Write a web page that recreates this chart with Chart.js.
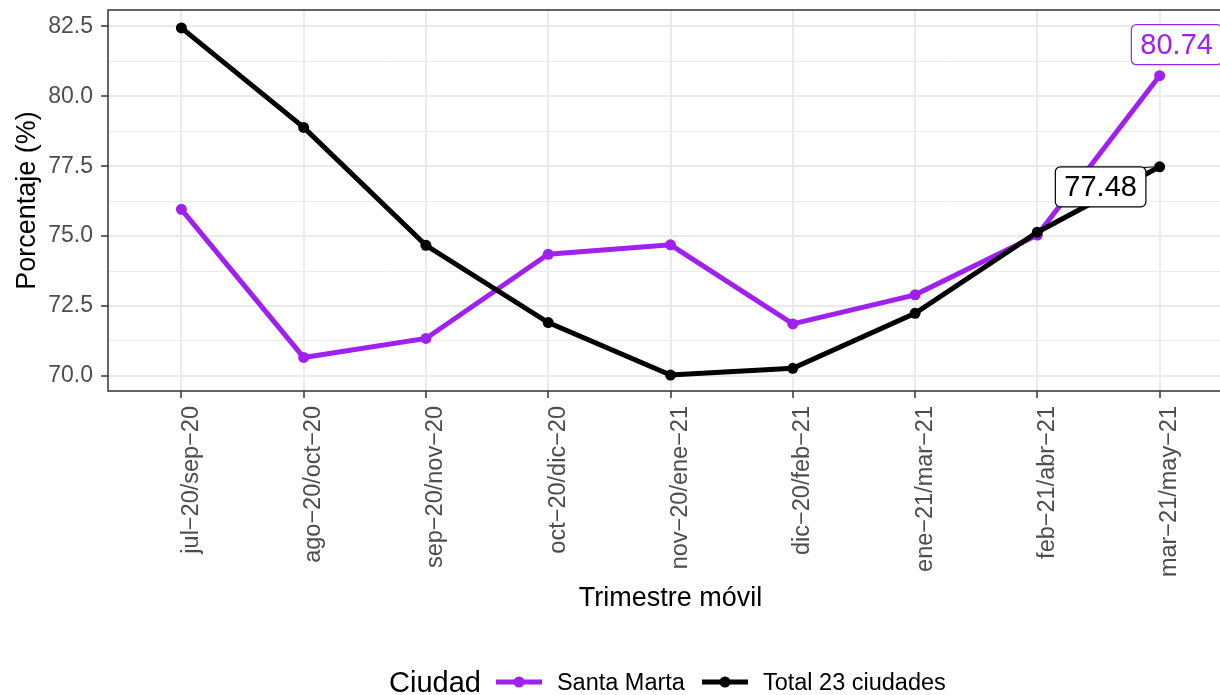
<!DOCTYPE html>
<html>
<head>
<meta charset="utf-8">
<script src="https://cdn.jsdelivr.net/npm/chart.js@4/dist/chart.umd.min.js"></script>
<style>
html,body{margin:0;padding:0;background:#fff;overflow:hidden;}
#wrap{position:relative;width:1240px;height:695px;}
#c{position:absolute;left:0;top:0;}
#legend{position:absolute;left:389px;top:662px;height:40px;display:flex;align-items:center;font-family:"Liberation Sans",Arial,sans-serif;color:#000;white-space:nowrap;}
#legend .ttl{font-size:29px;margin-right:15px;}
#legend .lab{font-size:23.5px;}
#legend svg{display:block;}
</style>
</head>
<body>
<div id="wrap">
<canvas id="c" width="1240" height="695"></canvas>
<div id="legend"></div>
</div>
<script>
// ---- data ----
const categories = ['jul\u221220/sep\u221220','ago\u221220/oct\u221220','sep\u221220/nov\u221220','oct\u221220/dic\u221220','nov\u221220/ene\u221221','dic\u221220/feb\u221221','ene\u221221/mar\u221221','feb\u221221/abr\u221221','mar\u221221/may\u221221'];
const seriesNames = ['Santa Marta','Total 23 ciudades'];
const santaMarta = [75.96, 70.66, 71.34, 74.35, 74.69, 71.86, 72.90, 75.04, 80.74];
const total23 = [82.45, 78.89, 74.67, 71.91, 70.03, 70.27, 72.24, 75.14, 77.48];
const yMajorTicks = [70, 72.5, 75, 77.5, 80, 82.5];
const legendTitle = 'Ciudad';
const xTitle = 'Trimestre m\u00f3vil';
const yTitle = 'Porcentaje (%)';
const seriesColors = ['#A020F0', '#000000'];

// ---- derived ----
const FAM = '"Liberation Sans", Arial, sans-serif';
const yMinor = yMajorTicks.slice(0, -1).map((v, i) => (v + yMajorTicks[i + 1]) / 2);
const yAllTicks = yMajorTicks.concat(yMinor).sort((a, b) => a - b);
const isMajor = v => yMajorTicks.some(m => Math.abs(m - v) < 1e-6);
const seriesValues = [santaMarta, total23];

const datasets = seriesNames.map((name, k) => ({
  label: name,
  data: seriesValues[k].map((v, i) => ({x: i, y: v})),
  borderColor: seriesColors[k],
  backgroundColor: seriesColors[k],
  pointBackgroundColor: seriesColors[k],
  pointBorderColor: seriesColors[k],
  borderWidth: 5,
  pointRadius: 5.5,
  pointBorderWidth: 0,
  tension: 0,
  order: seriesNames.length - k
}));

function roundRectPath(ctx, x, y, w, h, r) {
  ctx.beginPath();
  ctx.moveTo(x + r, y);
  ctx.lineTo(x + w - r, y);
  ctx.arcTo(x + w, y, x + w, y + r, r);
  ctx.lineTo(x + w, y + h - r);
  ctx.arcTo(x + w, y + h, x + w - r, y + h, r);
  ctx.lineTo(x + r, y + h);
  ctx.arcTo(x, y + h, x, y + h - r, r);
  ctx.lineTo(x, y + r);
  ctx.arcTo(x, y, x + r, y, r);
  ctx.closePath();
}

const endLabels = {
  id: 'endLabels',
  afterDraw(chart) {
    const {ctx, chartArea: a, scales} = chart;
    ctx.save();
    // panel border
    ctx.strokeStyle = '#333333';
    ctx.lineWidth = 1.5;
    ctx.strokeRect(a.left, a.top, a.right - a.left, a.bottom - a.top);
    // labels at last point
    const offsets = [{dx: 17, dy: -31}, {dx: -59, dy: 20}];
    ctx.font = '29px ' + FAM;
    ctx.textAlign = 'center';
    ctx.textBaseline = 'middle';
    seriesValues.forEach((vals, k) => {
      const i = vals.length - 1;
      const px = scales.x.getPixelForValue(i);
      const py = scales.y.getPixelForValue(vals[i]);
      const txt = vals[i].toFixed(2);
      const tw = ctx.measureText(txt).width;
      const cx = px + offsets[k].dx, cy = py + offsets[k].dy;
      const w = tw + 18, h = 40;
      const bx = cx - w / 2, by = cy - h / 2;
      if (k === 1) {
        ctx.strokeStyle = seriesColors[k];
        ctx.lineWidth = 1;
        ctx.beginPath();
        ctx.moveTo(bx + w - 8, by + 1);
        ctx.lineTo(px - 4, py);
        ctx.stroke();
      }
      roundRectPath(ctx, bx, by, w, h, 5);
      ctx.fillStyle = '#ffffff';
      ctx.fill();
      ctx.strokeStyle = seriesColors[k];
      ctx.lineWidth = 1.2;
      ctx.stroke();
      ctx.fillStyle = seriesColors[k];
      ctx.fillText(txt, cx, cy + 1);
    });
    ctx.restore();
  }
};

const chart = new Chart(document.getElementById('c'), {
  type: 'line',
  data: {datasets},
  options: {
    responsive: false,
    animation: false,
    devicePixelRatio: 1,
    layout: {padding: {top: 10, left: 0, right: 7, bottom: 80}},
    plugins: {legend: {display: false}, tooltip: {enabled: false}},
    scales: {
      x: {
        type: 'linear',
        min: -0.6,
        max: 8.6,
        afterBuildTicks: s => { s.ticks = categories.map((c, i) => ({value: i})); },
        afterFit: s => { s.height = 224; s.paddingLeft = 0; s.paddingRight = 0; },
        border: {display: false},
        grid: {color: '#EBEBEB', lineWidth: 2, tickColor: '#333333', tickLength: 7, tickWidth: 1.5},
        ticks: {
          autoSkip: false, minRotation: 90, maxRotation: 90, padding: 8, labelOffset: 10,
          color: '#4D4D4D', font: {family: FAM, size: 23.5, lineHeight: 1.0},
          callback: v => categories[v]
        },
        title: {display: true, text: xTitle, color: '#000', font: {family: FAM, size: 27}, padding: {top: 0, bottom: 0}}
      },
      y: {
        min: 69.46,
        max: 83.09,
        afterBuildTicks: s => { s.ticks = yAllTicks.map(v => ({value: v})); },
        afterFit: s => { s.width = 108; s.paddingTop = 0; s.paddingBottom = 0; },
        border: {display: false},
        grid: {
          color: '#EBEBEB',
          lineWidth: c => (c.tick && isMajor(c.tick.value)) ? 2 : 1,
          tickColor: c => (c.tick && isMajor(c.tick.value)) ? '#333333' : 'rgba(0,0,0,0)',
          tickLength: 7,
          tickWidth: 1.5
        },
        ticks: {
          padding: 8, color: '#4D4D4D', font: {family: FAM, size: 23, lineHeight: 0.8},
          callback: v => isMajor(v) ? v.toFixed(1) : ''
        },
        title: {display: true, text: yTitle, color: '#000', font: {family: FAM, size: 27}, padding: {top: 11, bottom: 0}}
      }
    }
  },
  plugins: [endLabels]
});

// legend (HTML, built from datasets)
const lg = document.getElementById('legend');
const t = document.createElement('span');
t.className = 'ttl';
t.textContent = legendTitle;
lg.appendChild(t);
chart.data.datasets.forEach((ds, k) => {
  const ns = 'http://www.w3.org/2000/svg';
  const svg = document.createElementNS(ns, 'svg');
  svg.setAttribute('width', '46'); svg.setAttribute('height', '14');
  svg.style.marginLeft = k === 0 ? '0px' : '17px';
  svg.style.marginRight = '15px';
  const ln = document.createElementNS(ns, 'line');
  ln.setAttribute('x1', '0'); ln.setAttribute('x2', '46'); ln.setAttribute('y1', '7'); ln.setAttribute('y2', '7');
  ln.setAttribute('stroke', ds.borderColor); ln.setAttribute('stroke-width', '5');
  const cc = document.createElementNS(ns, 'circle');
  cc.setAttribute('cx', '23'); cc.setAttribute('cy', '7'); cc.setAttribute('r', '5.5'); cc.setAttribute('fill', ds.borderColor);
  svg.appendChild(ln); svg.appendChild(cc);
  lg.appendChild(svg);
  const s = document.createElement('span');
  s.className = 'lab';
  s.textContent = ds.label;
  lg.appendChild(s);
});
</script>
</body>
</html>
